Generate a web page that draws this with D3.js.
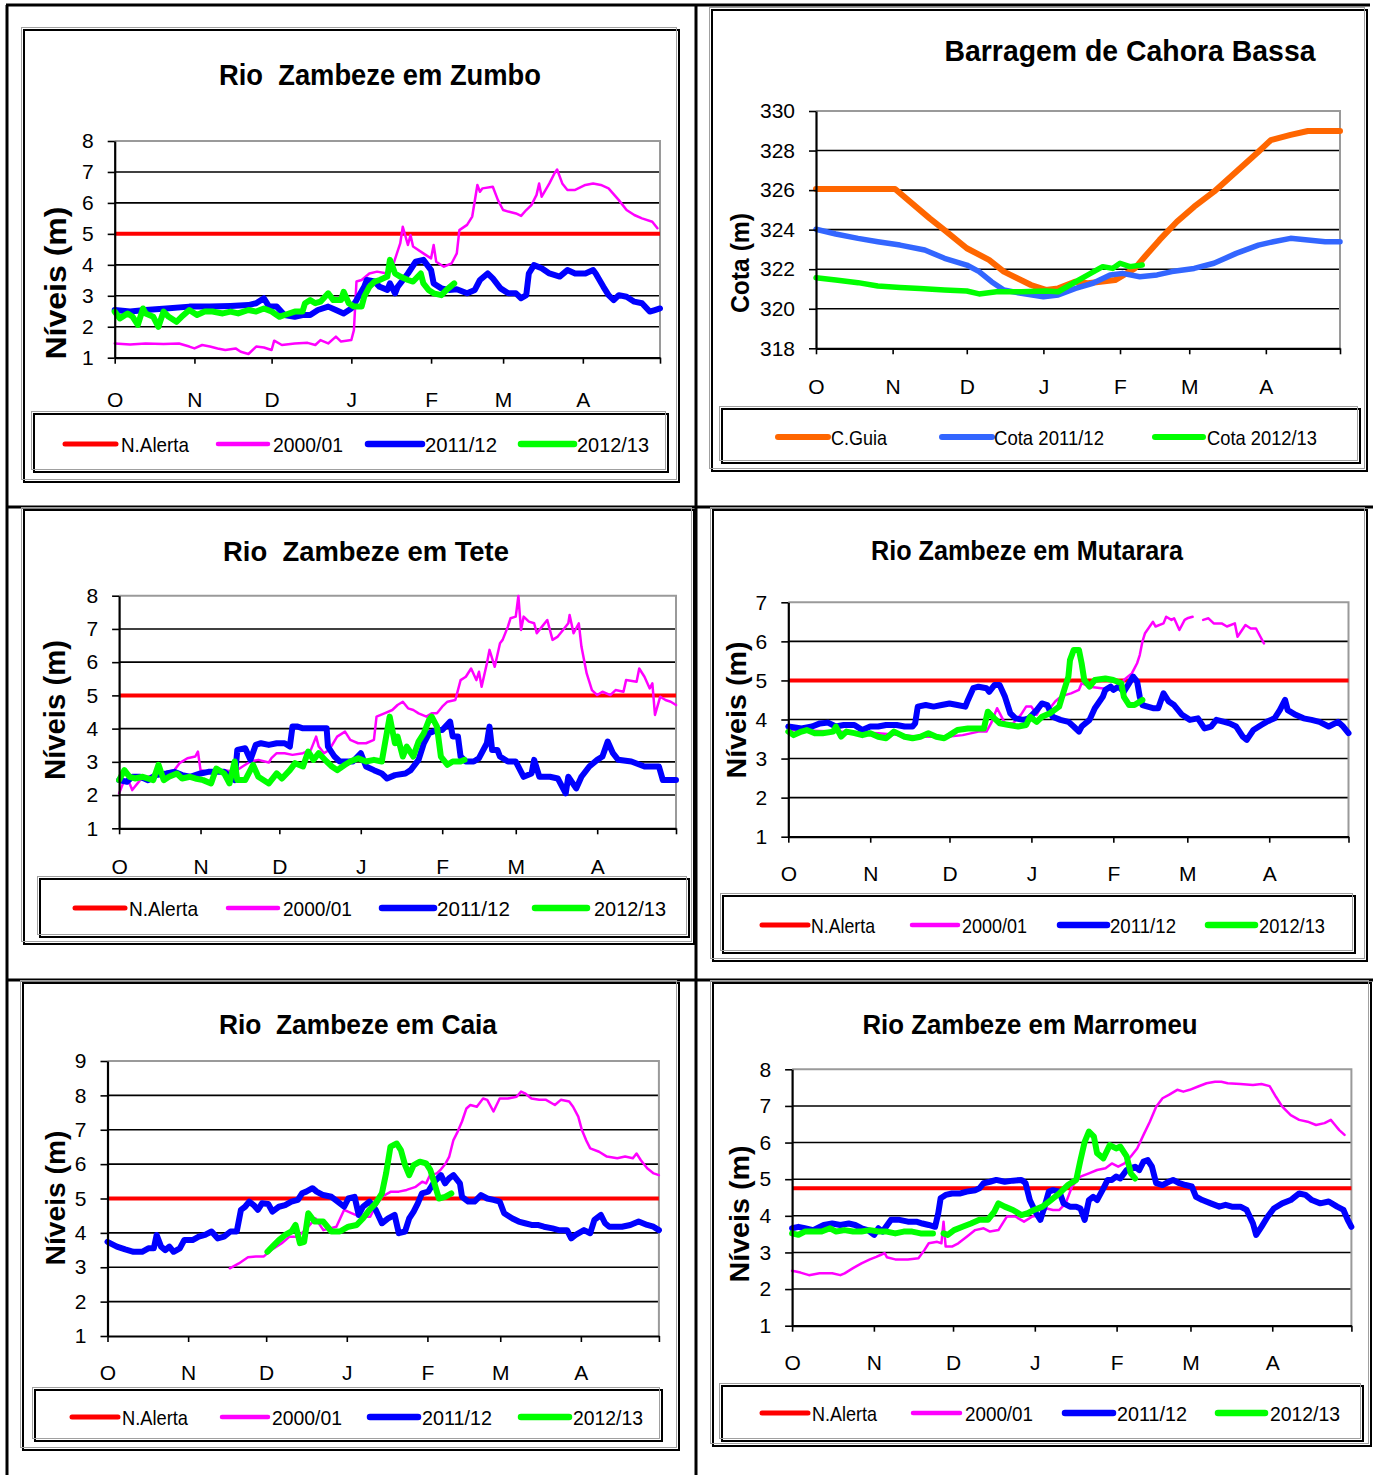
<!DOCTYPE html>
<html><head><meta charset="utf-8">
<script src="https://cdn.jsdelivr.net/npm/d3@7"></script>
<style>body{margin:0;background:#fff} svg{display:block}</style>
</head><body><svg id="c" width="1373" height="1475"></svg>
<script>
// ---------- DATA (x = days since 1 Oct, y = level) ----------
const monthTicks = [0,31,61,92,123,151,182,212];
const monthLabels = ["O","N","D","J","F","M","A",""];
const levelLabels = ["N.Alerta","2000/01","2011/12","2012/13"];
const cahoraLabels = ["C.Guia","Cota 2011/12","Cota 2012/13"];

const zumboAlert = 5;
const zumbo2000 = [[0,1.46],[6,1.43],[12,1.46],[19,1.44],[25,1.46],[29,1.36],[31,1.30],[34,1.41],[37,1.36],[40,1.30],[43,1.25],[47,1.30],[49,1.19],[52,1.12],[55,1.36],[58,1.33],[61,1.25],[62,1.55],[65,1.41],[70,1.46],[75,1.48],[78,1.41],[80,1.57],[83,1.46],[86,1.68],[88,1.52],[92,1.57],[93,1.89],[94,3.46],[96,3.51],[99,3.72],[102,3.78],[106,3.72],[108,3.94],[111,4.69],[112,5.23],[114,4.64],[115,4.96],[116,4.59],[120,4.37],[123,4.21],[124,4.64],[125,4.10],[128,3.94],[131,4.05],[133,4.37],[134,5.12],[137,5.29],[139,5.56],[141,6.58],[142,6.36],[143,6.47],[147,6.52],[149,6.09],[151,5.77],[153,5.72],[156,5.66],[158,5.58],[160,5.77],[162,5.93],[164,6.26],[165,6.63],[166,6.20],[169,6.63],[171,6.96],[172,7.08],[174,6.63],[176,6.42],[179,6.42],[183,6.58],[186,6.63],[189,6.58],[192,6.47],[196,6.09],[199,5.77],[202,5.61],[205,5.50],[209,5.39],[211,5.18]];
const zumbo2011 = [[0,2.54],[6,2.49],[12,2.54],[20,2.59],[29,2.65],[37,2.65],[45,2.67],[52,2.70],[55,2.76],[58,2.92],[60,2.65],[63,2.65],[66,2.38],[70,2.32],[73,2.38],[76,2.38],[79,2.54],[83,2.65],[86,2.54],[89,2.43],[92,2.59],[94,2.86],[97,3.29],[98,3.51],[101,3.46],[103,3.29],[106,3.19],[107,3.40],[109,3.08],[110,3.29],[114,3.72],[117,4.10],[120,4.16],[123,3.83],[124,3.40],[127,3.24],[130,3.19],[133,3.21],[137,3.08],[140,3.19],[142,3.51],[145,3.72],[147,3.56],[150,3.24],[153,3.08],[156,3.08],[158,2.92],[160,3.02],[161,3.72],[163,3.99],[166,3.89],[169,3.72],[173,3.62],[176,3.83],[179,3.72],[183,3.72],[186,3.83],[187,3.72],[190,3.29],[192,3.02],[194,2.86],[196,3.02],[199,2.97],[202,2.81],[205,2.76],[208,2.49],[210,2.54],[212,2.59]];
const zumbo2012 = [[0,2.49],[2,2.27],[5,2.43],[7,2.32],[9,2.06],[11,2.59],[12,2.43],[15,2.32],[17,2.00],[19,2.49],[21,2.32],[24,2.16],[26,2.32],[29,2.54],[32,2.38],[35,2.49],[38,2.49],[42,2.43],[45,2.49],[48,2.43],[52,2.54],[55,2.49],[58,2.59],[61,2.49],[64,2.32],[66,2.38],[70,2.49],[73,2.49],[74,2.76],[76,2.86],[78,2.76],[80,2.81],[83,3.08],[85,2.86],[88,2.86],[89,3.13],[91,2.76],[93,2.65],[96,2.65],[97,2.97],[99,3.29],[101,3.46],[103,3.51],[106,3.62],[107,4.16],[109,3.72],[111,3.62],[114,3.51],[116,3.46],[119,3.72],[120,3.40],[122,3.19],[124,3.08],[127,3.02],[129,3.19],[132,3.40]];

const cahoraGuia = [[0,326.06],[32,326.06],[46,324.57],[52,323.98],[61,323.06],[70,322.47],[76,321.88],[87,321.2],[93,320.95],[98,321.03],[105,321.37],[110,321.29],[121,321.45],[129,322.04],[133,322.63],[139,323.48],[146,324.40],[153,325.16],[161,325.92],[170,326.93],[179,327.94],[184,328.53],[192,328.79],[199,328.99],[212,328.99]];
const cahora2011 = [[0,324.02],[8,323.78],[17,323.56],[25,323.39],[34,323.22],[44,322.97],[52,322.55],[61,322.21],[66,321.88],[71,321.37],[76,320.95],[83,320.78],[92,320.61],[98,320.70],[105,321.03],[112,321.29],[119,321.71],[124,321.79],[131,321.62],[138,321.71],[144,321.88],[153,322.04],[161,322.30],[170,322.80],[179,323.22],[185,323.39],[192,323.56],[199,323.48],[206,323.39],[212,323.39]];
const cahora2012 = [[0,321.57],[8,321.45],[17,321.32],[25,321.15],[34,321.08],[42,321.03],[52,320.95],[61,320.90],[66,320.75],[73,320.86],[83,320.86],[93,320.90],[98,320.86],[104,321.29],[110,321.71],[116,322.13],[120,322.04],[123,322.30],[127,322.13],[132,322.21]];

const teteAlert = 5;
const tete2000 = [[0,2.05],[2,2.45],[4,2.35],[5,2.15],[8,2.45],[11,2.55],[16,2.65],[21,2.75],[23,2.96],[26,3.11],[29,3.16],[30,3.31],[31,2.75],[34,2.70],[37,2.75],[40,2.75],[44,2.70],[47,2.86],[50,3.01],[53,3.06],[57,2.98],[58,3.11],[60,3.26],[63,3.26],[66,3.21],[70,3.26],[73,3.36],[75,3.76],[76,3.46],[78,3.26],[80,3.36],[83,3.76],[86,3.91],[88,3.66],[91,3.56],[94,3.56],[97,3.66],[98,4.36],[101,4.46],[104,4.56],[106,4.71],[108,4.81],[110,4.61],[112,4.56],[114,4.46],[117,4.36],[119,4.46],[121,4.46],[123,4.66],[125,4.81],[128,4.86],[130,5.46],[132,5.56],[134,5.81],[136,5.46],[137,5.71],[138,5.26],[140,5.96],[141,6.37],[143,5.86],[145,6.57],[146,6.67],[148,7.07],[149,7.32],[151,7.37],[152,7.99],[153,6.97],[154,7.37],[156,7.22],[158,7.17],[159,6.87],[161,7.07],[163,7.27],[165,6.67],[167,6.77],[169,6.97],[171,7.17],[171.5,7.42],[173,6.87],[175,7.17],[176,6.47],[178,5.66],[180,5.16],[182,5.01],[184,5.11],[187,5.01],[189,5.16],[192,5.11],[193,5.46],[197,5.41],[198,5.81],[200,5.56],[202,5.21],[203,5.36],[204,4.41],[206,4.96],[208,4.86],[210,4.81],[212,4.71]];
const tete2011 = [[0,2.45],[3,2.40],[5,2.55],[8,2.55],[11,2.45],[14,2.60],[18,2.65],[21,2.70],[24,2.60],[27,2.55],[31,2.65],[34,2.70],[37,2.70],[40,2.70],[44,2.45],[45,3.36],[48,3.41],[50,3.06],[52,3.51],[54,3.56],[57,3.51],[60,3.56],[63,3.56],[65,3.46],[66,4.06],[68,4.06],[70,4.01],[73,4.01],[76,4.01],[79,4.01],[79.5,3.46],[82,3.16],[84,3.01],[87,3.01],[89,3.01],[92,3.26],[94,2.86],[97,2.75],[100,2.65],[102,2.50],[105,2.60],[109,2.65],[111,2.75],[114,3.06],[116,3.56],[118,3.86],[121,3.96],[123,3.96],[126,4.21],[127,3.76],[129,3.76],[130,3.16],[132,3.01],[135,3.01],[137,3.11],[140,3.56],[141,4.06],[142,3.36],[144,3.36],[145,3.16],[148,3.01],[151,3.01],[154,2.55],[157,2.65],[158,3.06],[160,2.55],[164,2.55],[167,2.50],[170,2.05],[171,2.55],[174,2.20],[176,2.55],[179,2.86],[182,3.06],[184,3.16],[186,3.61],[188,3.26],[190,3.06],[195,3.01],[200,2.86],[205.5,2.86],[207,2.45],[212,2.45]];
const tete2012 = [[0,2.45],[2,2.75],[4,2.55],[6,2.50],[9,2.55],[13,2.45],[15,2.91],[17,2.45],[19,2.55],[22,2.65],[24,2.50],[27,2.55],[29,2.50],[32,2.45],[35,2.35],[37,2.80],[40,2.65],[42,2.35],[44,3.01],[45,2.45],[48,2.45],[51,2.91],[53,2.55],[57,2.35],[60,2.65],[62,2.50],[65,2.75],[67,2.96],[70,2.86],[72,3.31],[74,3.06],[76,3.26],[79,3.01],[81,2.86],[83,2.75],[86,2.91],[88,3.01],[91,3.11],[94,3.01],[97,3.06],[100,3.01],[101,3.46],[103,4.36],[105,3.56],[106,3.76],[108,3.16],[109.5,3.46],[112,3.16],[114,3.61],[116,3.86],[118,4.26],[119,4.36],[121,4.06],[122.5,3.16],[125,2.91],[127,3.01],[130,3.01],[131.5,3.06]];

const mutAlert = 5;
const mut2000 = [[0,3.73],[18,3.69],[34,3.65],[50,3.56],[60,3.56],[66,3.60],[72,3.69],[75,3.69],[77,3.94],[79,4.29],[82,3.90],[85,3.90],[88,4.12],[90,4.33],[92,4.33],[94,4.12],[96,4.37],[99,4.29],[101,4.46],[103,4.58],[105,4.63],[107,4.67],[110,4.76],[111,4.93],[114,4.84],[123,4.76],[126,4.84],[127,5.01],[130,5.18],[131,5.31],[132,5.44],[133,5.65],[134,5.99],[135,6.21],[138,6.50],[139,6.38],[142,6.46],[143,6.63],[145,6.55],[146,6.59],[148,6.29],[150,6.55],[151,6.59],[153,6.63],[155,null],[157,6.55],[159,6.59],[161,6.46],[164,6.46],[166,6.38],[169,6.46],[170,6.12],[173,6.42],[175,6.33],[177,6.33],[180,5.95]];
const mut2011 = [[0,3.82],[5,3.77],[9,3.82],[12,3.90],[15,3.92],[18,3.82],[21,3.86],[25,3.86],[28,3.73],[31,3.82],[34,3.82],[37,3.86],[41,3.86],[44,3.82],[47,3.82],[48,3.90],[49,4.33],[52,4.37],[55,4.33],[58,4.37],[61,4.41],[64,4.37],[67,4.33],[68,4.50],[70,4.80],[72,4.84],[75,4.80],[76,4.71],[78,4.88],[80,4.88],[82,4.58],[84,4.16],[86,4.03],[89,3.99],[91,4.03],[94,4.24],[96,4.41],[98,4.37],[100,4.07],[103,3.99],[106,3.94],[108,3.82],[110,3.69],[111,3.82],[114,3.99],[116,4.29],[119,4.58],[120,4.76],[122,4.84],[123,4.76],[125,4.84],[127,4.71],[129,4.93],[130.5,5.10],[132,4.97],[133,4.58],[134,4.37],[138,4.29],[140,4.29],[142,4.67],[144,4.46],[146,4.37],[149,4.12],[152,3.99],[155,4.03],[157.5,3.77],[160,3.82],[162,3.99],[165,3.94],[167,3.90],[169.5,3.82],[172,3.56],[173.5,3.48],[176,3.73],[179,3.86],[181,3.94],[184,4.03],[186,4.24],[188,4.50],[189,4.24],[192,4.12],[195,4.03],[198,3.99],[201,3.94],[204.5,3.82],[208,3.94],[210,3.82],[212,3.65]];
const mut2012 = [[0,3.69],[2,3.60],[5,3.69],[7,3.73],[10,3.65],[13,3.65],[17,3.69],[18,3.82],[20,3.56],[22,3.69],[25,3.65],[28,3.60],[31,3.65],[34,3.56],[37,3.52],[40,3.69],[44,3.56],[47,3.52],[50,3.56],[53,3.65],[56,3.56],[59,3.52],[61,3.60],[64,3.73],[68,3.77],[71,3.77],[74,3.77],[75.5,4.20],[78,4.03],[80,3.90],[83.5,3.86],[87,3.82],[90,3.86],[91.5,4.07],[94,3.94],[96,4.07],[99,4.16],[102.5,4.33],[104,4.67],[106,5.10],[106.6,5.52],[108,5.78],[110,5.78],[111,5.44],[112,5.01],[114,4.84],[116,5.01],[120,5.05],[123,5.01],[126,4.93],[127,4.58],[129,4.37],[131,4.37],[134,4.50]];

const caiaAlert = 5;
const caia2000 = [[47,2.97],[50.5,3.11],[54,3.29],[57,3.31],[60,3.31],[63,3.50],[67,3.70],[70,3.89],[73,3.89],[76,4.08],[80,4.42],[83,4.08],[88,4.18],[91,4.67],[94,4.57],[97,4.47],[101,4.47],[103,4.76],[105.5,5.05],[109,5.20],[112,5.20],[115,5.25],[118.5,5.34],[121,5.49],[122.5,5.44],[124,5.68],[126.6,5.73],[128,5.83],[130,6.02],[131.4,6.22],[133,6.70],[134.6,6.94],[136.3,7.24],[138,7.62],[139.5,7.72],[142,7.67],[144.4,7.91],[146,7.87],[148.4,7.53],[150.8,7.91],[154,7.91],[157.3,7.96],[159,8.11],[160.5,8.06],[163,7.91],[166,7.87],[168.6,7.87],[172,7.72],[174.3,7.87],[177.5,7.82],[179,7.67],[181,7.38],[182.4,6.99],[184,6.70],[185.6,6.46],[189,6.36],[192,6.22],[196,6.17],[199,6.22],[202,6.17],[203.4,6.31],[205,6.12],[207.5,5.88],[210,5.73],[212,5.68]];
const caia2011 = [[0,3.74],[3.6,3.60],[6.8,3.52],[10,3.45],[13.3,3.45],[15.7,3.55],[17.8,3.55],[18.9,3.94],[20.6,3.60],[22.2,3.50],[23.8,3.60],[25.4,3.45],[27.8,3.55],[29.5,3.79],[32.7,3.79],[35.1,3.89],[37.5,3.94],[40,4.04],[42.4,3.84],[44.8,3.89],[47.3,4.04],[49.7,4.04],[51.3,4.67],[52.9,4.76],[54.5,4.91],[56.2,4.81],[57.8,4.67],[59.4,4.86],[61.8,4.84],[63.4,4.62],[65.9,4.76],[68.3,4.81],[70.7,4.91],[73.2,4.96],[74.8,5.15],[76.4,5.20],[78.8,5.30],[80.4,5.20],[82.9,5.10],[86.1,5.05],[88.5,4.91],[91,4.76],[92.6,5.00],[95,5.05],[96.6,4.52],[98.2,4.76],[100.7,4.91],[103.1,4.67],[105.5,4.28],[107.9,4.42],[110.4,4.52],[112,3.99],[114.4,4.04],[116,4.42],[117.7,4.62],[119.3,4.86],[120.9,5.15],[123.3,5.20],[125.7,5.49],[128.2,5.68],[129.8,5.44],[131.4,5.59],[133,5.68],[135.5,5.44],[136.3,5.05],[138.7,4.91],[141.1,4.91],[143.6,5.10],[146,5.00],[148.4,4.96],[150.8,4.91],[152.5,4.57],[155.7,4.42],[158.1,4.33],[160.5,4.28],[163,4.23],[165.4,4.23],[167.8,4.18],[171.1,4.13],[173.5,4.08],[176.7,4.08],[178.3,3.84],[180,3.94],[183.2,4.08],[185.6,3.99],[187.2,4.38],[189.7,4.52],[191.3,4.28],[192.9,4.18],[197.8,4.18],[201,4.23],[204.2,4.33],[207.5,4.23],[209.9,4.18],[212,4.08]];
const caia2012 = [[61.5,3.45],[63.4,3.60],[65.9,3.79],[68.3,3.94],[70.7,4.04],[72.3,4.23],[74,3.70],[75.6,3.74],[77.2,4.57],[79.6,4.33],[82.9,4.33],[86.1,4.04],[89.3,4.04],[92.6,4.18],[95.8,4.23],[98.2,4.42],[100.7,4.67],[103.1,4.86],[105.5,5.15],[107.1,5.73],[108.8,6.51],[111.2,6.60],[112.8,6.41],[114.4,5.97],[116,5.68],[117.7,5.97],[120.1,6.07],[122.5,6.02],[124.1,5.83],[125.7,5.44],[127.4,5.00],[129.8,5.05],[132.2,5.15]];

const marAlert = 4.75;
const mar2000 = [[0,2.50],[3.2,2.45],[6.4,2.38],[10.4,2.43],[15.2,2.43],[18.3,2.38],[19.9,2.43],[23.1,2.57],[26.3,2.70],[29.5,2.81],[31.9,2.88],[33.5,2.93],[35.1,2.98],[35.9,2.87],[39.1,2.81],[43.9,2.81],[47.9,2.84],[50.2,3.07],[51.8,3.25],[55,3.29],[56.6,3.25],[57.4,3.84],[58.2,3.16],[60.6,3.16],[63,3.25],[66.2,3.43],[69.4,3.61],[72.6,3.66],[75,3.57],[78.2,3.61],[81.4,3.98],[84.6,3.98],[87.9,3.84],[91.1,3.98],[94.3,4.02],[96.5,4.20],[98.9,4.16],[101.3,4.16],[103.7,4.34],[106.1,4.80],[109.3,5.07],[112.5,5.16],[115.6,5.25],[118.8,5.30],[121.2,5.43],[123.6,5.34],[126,5.43],[128.4,5.62],[130.8,5.84],[133.2,6.21],[135.6,6.57],[138,6.98],[140.4,7.21],[142.8,7.30],[146,7.44],[148.3,7.39],[150.7,7.44],[153.9,7.53],[157.1,7.62],[160.3,7.66],[162.7,7.66],[165.1,7.62],[169.9,7.60],[174.7,7.57],[177.9,7.60],[181,7.54],[183.4,7.25],[185.8,6.98],[189,6.75],[192.2,6.62],[195.4,6.57],[198.6,6.48],[201.8,6.53],[204.2,6.62],[205.8,6.48],[207.4,6.34],[209.4,6.21]];
const mar2011 = [[0,3.66],[2.4,3.70],[4.8,3.66],[8,3.61],[12,3.75],[15.2,3.79],[18.3,3.75],[21.5,3.79],[23.9,3.75],[26.3,3.66],[28.7,3.61],[31.1,3.48],[32.7,3.66],[34.3,3.57],[37.5,3.89],[40.7,3.89],[43.9,3.84],[47.1,3.84],[49.4,3.79],[51.8,3.75],[54.2,3.70],[55.4,4.07],[56.3,4.48],[58.2,4.57],[60.6,4.61],[63.8,4.61],[66.2,4.66],[69.4,4.70],[71,4.75],[72.6,4.89],[75,4.93],[77.4,4.98],[80.6,4.93],[83.7,4.96],[86.9,4.98],[88.5,4.89],[90.1,4.43],[92.5,4.07],[94.1,3.89],[95.7,4.25],[97.3,4.66],[98.9,4.70],[101.3,4.66],[102.9,4.34],[105.3,4.25],[107.7,4.25],[109.3,4.20],[110.9,3.89],[112.5,4.43],[114.1,4.52],[115.6,4.43],[118,4.75],[119.6,4.98],[121.2,4.98],[122.8,5.07],[124.4,5.02],[126.8,5.25],[128.4,5.30],[130,5.34],[131.6,5.25],[133.2,5.48],[134.8,5.52],[136.4,5.34],[138,4.89],[140.4,4.84],[142.8,4.93],[144.4,4.98],[146.8,4.89],[149.1,4.84],[151.5,4.80],[153.1,4.52],[155.5,4.43],[158.7,4.34],[161.9,4.25],[164.3,4.30],[166.7,4.25],[169.9,4.25],[172.3,4.16],[174.7,3.79],[175.9,3.48],[177.9,3.70],[180.3,3.98],[182.6,4.20],[185.8,4.34],[189,4.43],[192.2,4.61],[194.6,4.57],[197,4.43],[200.2,4.34],[203.4,4.39],[206.6,4.25],[209,4.16],[210.6,3.89],[212,3.70]];
const mar2012 = [[0,3.52],[2.4,3.48],[4.8,3.57],[8,3.57],[11.2,3.57],[14.4,3.66],[16.7,3.57],[19.9,3.61],[23.1,3.57],[26.3,3.57],[29.5,3.61],[32.7,3.57],[35.9,3.57],[39.1,3.52],[42.3,3.57],[45.5,3.57],[48.7,3.52],[51,3.52],[53.4,3.52],[55.5,null],[57.4,3.52],[59,3.48],[61.4,3.61],[64.6,3.70],[67.8,3.79],[71,3.89],[74.2,3.89],[76.6,4.11],[78.2,4.34],[80.6,4.25],[83.7,4.16],[86.9,4.02],[89.3,4.07],[91.7,4.16],[94.9,4.25],[98.1,4.43],[101.3,4.61],[104.5,4.84],[107.7,4.98],[109.3,5.52],[110.9,6.02],[112.5,6.30],[114.4,6.16],[115.6,5.71],[118,5.57],[120.4,5.93],[122.8,5.84],[124.4,5.89],[126.8,5.62],[128.4,5.16],[130,5.02]];

// ---------- STYLE / LAYOUT ----------
const RED="#FF0000", MAG="#FF00FF", BLUE="#0000FF", GREEN="#00FF00", ORANGE="#FF6600", LBLUE="#3366FF";
const NARROW="'Liberation Sans Narrow','Arial Narrow','Liberation Sans',Arial,sans-serif";
const REG="'Liberation Sans',Arial,sans-serif";
const levelStyle=[{c:RED,w:4,lw:5,cap:"butt"},{c:MAG,w:2.5,lw:4.5,cap:"round"},{c:BLUE,w:6,lw:6.5,cap:"round"},{c:GREEN,w:6,lw:6.5,cap:"round"}];
const cahoraStyle=[{c:ORANGE,w:6,lw:6},{c:LBLUE,w:5.5,lw:6},{c:GREEN,w:5.5,lw:6}];
const alertLine=a=>[[0,a],[212,a]];

function lvl(alert,a,b,c){return [alertLine(alert),a,b,c];}

const panels=[
 {title:"Rio  Zambeze em Zumbo",tc:[380,74],tw:322,ts:30, frame:[24,30,679,482], plot:[114.7,141,660,357.7],
  yd:[1,8],yt:d3.range(1,9),yl:"Níveis (m)",ylc:[55,283],ylw:153,yls:30,xoff:42,
  series:lvl(zumboAlert,zumbo2000,zumbo2011,zumbo2012),styles:levelStyle,labels:levelLabels,
  lbox:[34,414,668,472],ly:444,items:[[65,116,121,68],[218,268,273,70],[368,422,425,72],[521,574,577,72]]},
 {title:"Barragem de Cahora Bassa",tc:[1130,50],tw:371,ts:30, frame:[712,10,1367,471], plot:[816,111,1340,348.3],
  yd:[318,330],yt:d3.range(318,331,2),yl:"Cota (m)",ylc:[740,263],ylw:100,yls:25,xoff:38,
  series:[cahoraGuia,cahora2011,cahora2012],styles:cahoraStyle,labels:cahoraLabels,
  lbox:[722,409,1360,463],ly:437,items:[[778,828,831,56],[942,992,994,110],[1155,1203,1207,110]]},
 {title:"Rio  Zambeze em Tete",tc:[366,551],tw:286,ts:28, frame:[24,510,694,944], plot:[119.1,595.7,676,828.3],
  yd:[1,8],yt:d3.range(1,9),yl:"Níveis (m)",ylc:[55,710],ylw:140,yls:29,xoff:38,
  series:lvl(teteAlert,tete2000,tete2011,tete2012),styles:levelStyle,labels:levelLabels,
  lbox:[40,879,689,937],ly:908,items:[[75,125,129,69],[228,278,283,69],[382,434,437,73],[535,587,594,72]]},
 {title:"Rio Zambeze em Mutarara",tc:[1027,550],tw:312,ts:27, frame:[713,510,1367,961], plot:[788.3,602.3,1348.5,836.7],
  yd:[1,7],yt:d3.range(1,8),yl:"Níveis (m)",ylc:[736,710],ylw:137,yls:28,xoff:37,
  series:lvl(mutAlert,mut2000,mut2011,mut2012),styles:levelStyle,labels:levelLabels,
  lbox:[723,896,1355,953],ly:925,items:[[762,808,811,64],[912,958,962,65],[1060,1107,1110,66],[1208,1255,1259,66]]},
 {title:"Rio  Zambeze em Caia",tc:[358,1024],tw:278,ts:28, frame:[23,983,679,1450], plot:[107.5,1061,658.9,1336],
  yd:[1,9],yt:d3.range(1,10),yl:"Níveis (m)",ylc:[55,1198],ylw:135,yls:28,xoff:37,
  series:lvl(caiaAlert,caia2000,caia2011,caia2012),styles:levelStyle,labels:levelLabels,
  lbox:[35,1390,662,1441],ly:1417,items:[[72,118,122,66],[222,268,272,70],[370,418,422,70],[521,569,573,70]]},
 {title:"Rio Zambeze em Marromeu",tc:[1030,1024],tw:335,ts:27, frame:[713,983,1371,1446], plot:[792.1,1069.3,1351.4,1325.7],
  yd:[1,8],yt:d3.range(1,9),yl:"Níveis (m)",ylc:[739,1214],ylw:137,yls:28,xoff:37,
  series:lvl(marAlert,mar2000,mar2011,mar2012),styles:levelStyle,labels:levelLabels,
  lbox:[722,1386,1363,1441],ly:1413,items:[[762,808,812,65],[913,960,965,68],[1065,1113,1117,70],[1218,1265,1270,70]]}
];

const svg=d3.select("#c");
svg.append("rect").attr("width",1373).attr("height",1475).attr("fill","#fff");

// outer table
const tbl=svg.append("g").attr("stroke","#000").attr("stroke-width",3);
[[7,5,7,1475],[696,5,696,1475],[6,5,1370,5],[6,507,1373,507],[6,980,1373,980]].forEach(l=>
  tbl.append("line").attr("x1",l[0]).attr("y1",l[1]).attr("x2",l[2]).attr("y2",l[3]));

function box(g,b){
  g.append("rect").attr("x",b[0]).attr("y",b[1]).attr("width",b[2]-b[0]).attr("height",b[3]-b[1])
    .attr("fill","none").attr("stroke","#000").attr("stroke-width",2);
  g.append("rect").attr("x",b[0]-2.5).attr("y",b[1]-2.5).attr("width",b[2]-b[0]).attr("height",b[3]-b[1])
    .attr("fill","none").attr("stroke","#a0a0a0").attr("stroke-width",1);
}

function drawPanel(p){
  const g=svg.append("g");
  box(g,p.frame);
  const [px0,py0,px1,py1]=p.plot;
  const x=d3.scaleLinear().domain([0,212]).range([px0,px1]);
  const y=d3.scaleLinear().domain(p.yd).range([py1,py0]);
  // gridlines
  g.append("g").selectAll("line").data(p.yt.slice(1,-1)).join("line")
    .attr("x1",px0).attr("x2",px1).attr("y1",d=>y(d)).attr("y2",d=>y(d))
    .attr("stroke","#000").attr("stroke-width",1.6);
  // grey plot border
  g.append("path").attr("d",`M${px0},${y(p.yd[1])}H${px1}V${py1}`)
    .attr("fill","none").attr("stroke","#9a9a9a").attr("stroke-width",2);
  // series
  const line=d3.line().defined(d=>d[1]!=null).x(d=>x(d[0])).y(d=>y(d[1]));
  p.series.forEach((s,i)=>{
    const st=p.styles[i];
    g.append("path").attr("d",line(s)).attr("fill","none").attr("stroke",st.c)
      .attr("stroke-width",st.w).attr("stroke-linejoin","round").attr("stroke-linecap",st.cap||"round");
  });
  // axes
  const xa=g.append("g").attr("transform",`translate(0,${py1})`)
    .call(d3.axisBottom(x).tickValues(monthTicks).tickSize(6).tickSizeOuter(0)
      .tickPadding(p.xoff-6-7.5).tickFormat((d,i)=>monthLabels[i]));
  const ya=g.append("g").attr("transform",`translate(${px0},0)`)
    .call(d3.axisLeft(y).tickValues(p.yt).tickSize(7).tickSizeOuter(0).tickPadding(14).tickFormat(d3.format("d")));
  [xa,ya].forEach(a=>{
    a.select(".domain").attr("stroke","#000").attr("stroke-width",2.2);
    a.selectAll(".tick line").attr("stroke","#000").attr("stroke-width",1.6);
    a.selectAll("text").attr("font-family",REG).attr("font-size",21).attr("fill","#000");
  });
  // title
  g.append("text").attr("x",p.tc[0]).attr("y",p.tc[1]+0.36*p.ts).attr("text-anchor","middle")
    .attr("font-family",NARROW).attr("font-weight","bold").attr("font-size",p.ts)
    .style("white-space","pre").attr("textLength",p.tw).attr("lengthAdjust","spacingAndGlyphs").text(p.title);
  // y title
  g.append("text").attr("transform",`translate(${p.ylc[0]+0.36*p.yls},${p.ylc[1]}) rotate(-90)`)
    .attr("text-anchor","middle").attr("font-family",REG).attr("font-weight","bold").attr("font-size",p.yls)
    .attr("textLength",p.ylw).attr("lengthAdjust","spacingAndGlyphs").text(p.yl);
  // legend
  box(g,p.lbox);
  p.items.forEach((it,i)=>{
    const st=p.styles[i];
    g.append("line").attr("x1",it[0]).attr("x2",it[1]).attr("y1",p.ly).attr("y2",p.ly)
      .attr("stroke",st.c).attr("stroke-width",st.lw).attr("stroke-linecap","round");
    g.append("text").attr("x",it[2]).attr("y",p.ly+0.36*21).attr("font-family",NARROW).attr("font-size",21)
      .attr("textLength",it[3]).attr("lengthAdjust","spacingAndGlyphs").text(p.labels[i]);
  });
}
panels.forEach(drawPanel);
</script></body></html>
